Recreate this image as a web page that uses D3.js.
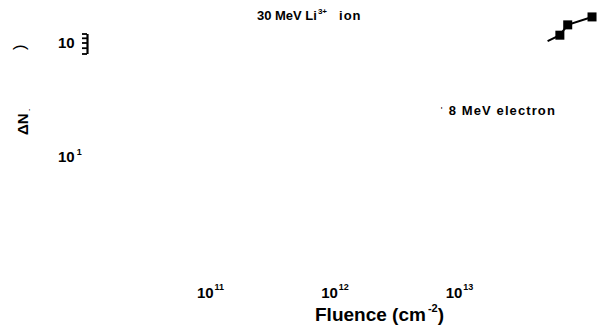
<!DOCTYPE html>
<html><head><meta charset="utf-8">
<script src="https://cdn.jsdelivr.net/npm/d3@7/dist/d3.min.js"></script>
<style>
html,body{margin:0;padding:0;background:#fff;}
svg{display:block;font-family:"Liberation Sans",Arial,Helvetica,sans-serif;}
</style></head>
<body>
<svg id="chart" width="603" height="329"></svg>
<script>
// ---- data ----
const fluence = [5.1e13, 6.4e13, 7.4e13, 1.16e14];   // cm^-2
const deltaN  = [103, 116, 143, 168];
const hasMarker = [false, true, true, true];
const xTickValues = [1e11, 1e12, 1e13];
const xTickExps = ["11", "12", "13"];
const yTickValues = [10, 100];
const yTickExps = ["1", ""];
const yMinorTicks = [80, 90, 100, 110, 120];
const annotations = [
  {text: "30 MeV Li", sup: "3+", tail: "ion", x: 2.36e11, y: 158},
  {text: "8 MeV electron", sup: "", tail: "", x: 8.2e12, y: 23}
];

const svg = d3.select("#chart");
const x = d3.scaleLog().domain([1e10, 1e14]).range([86, 584]);
const y = d3.scaleLog().domain([10, 100]).range([156, 42.5]);

// x tick labels
const xl = svg.append("g").selectAll("text").data(xTickValues).join("text")
  .attr("x", d => x(d)).attr("y", 298)
  .attr("text-anchor", "middle")
  .style("font-size", "15px").style("font-weight", "bold");
xl.append("tspan").text("10");
xl.append("tspan").text((d,i) => xTickExps[i]).attr("dx", 1).attr("dy", -8).style("font-size", "9px");

// y tick labels
const yl = svg.append("g").selectAll("text").data(yTickValues).join("text")
  .attr("x", 58).attr("y", d => y(d) + 5.5)
  .style("font-size", "15px").style("font-weight", "bold");
yl.append("tspan").text("10");
yl.append("tspan").text((d,i) => yTickExps[i]).attr("dx", 2).attr("dy", -7).style("font-size", "9px");

// fragment of y axis with minor ticks
const yFrag = y.copy().domain(d3.extent(yMinorTicks)).range(d3.extent(yMinorTicks).map(y));
const yAxisFrag = d3.axisLeft(yFrag).tickValues(yMinorTicks).tickSize(5).tickSizeOuter(0).tickFormat("");
const gax = svg.append("g").attr("transform", "translate(87,0)").call(yAxisFrag);
gax.select(".domain").attr("stroke-width", 2.2);
gax.selectAll(".tick line").attr("stroke-width", 1.8);

// y axis title fragments
svg.append("text").attr("transform", "translate(28,135) rotate(-90)")
  .style("font-size", "15px").style("font-weight", "bold").text("ΔN");
svg.append("text").attr("transform", "translate(31,111) rotate(-90)")
  .style("font-size", "7px").text("-");
svg.append("text").attr("transform", "translate(25,50) rotate(-90)")
  .style("font-size", "17px").text(")");

// x axis title
const xt = svg.append("text").attr("x", 315).attr("y", 321)
  .style("font-size", "19px").style("font-weight", "bold");
xt.append("tspan").text("Fluence (cm");
xt.append("tspan").text("-2").attr("dx", 2).attr("dy", -9).style("font-size", "11px");
xt.append("tspan").text(")").attr("dy", 9);

// annotations
const an = svg.append("g").selectAll("text").data(annotations).join("text")
  .attr("x", d => x(d.x)).attr("y", d => y(d.y))
  .style("font-size", "13px").style("font-weight", "bold");
an.append("tspan").text(d => d.text).style("letter-spacing", (d,i) => i === 1 ? "1.1px" : "0px");
an.append("tspan").text(d => d.sup).attr("dx", 1).attr("dy", -6).style("font-size", "8px");
an.append("tspan").text(d => d.tail).attr("dx", 12).attr("dy", 6).style("letter-spacing", "1px");
svg.append("text").attr("x", x(annotations[1].x) - 8).attr("y", y(annotations[1].y) - 2)
  .style("font-size", "9px").text("'");

// series line + markers
const line = d3.line().x((d,i) => x(fluence[i])).y((d,i) => y(deltaN[i]));
svg.append("path").datum(deltaN).attr("d", line)
  .attr("fill", "none").attr("stroke", "#000").attr("stroke-width", 2);
svg.append("g").selectAll("rect").data(d3.range(deltaN.length).filter(i => hasMarker[i]))
  .join("rect")
  .attr("x", i => x(fluence[i]) - 4.5)
  .attr("y", i => y(deltaN[i]) - 4.5)
  .attr("width", 9).attr("height", 9).attr("fill", "#000");
</script>
</body></html>
